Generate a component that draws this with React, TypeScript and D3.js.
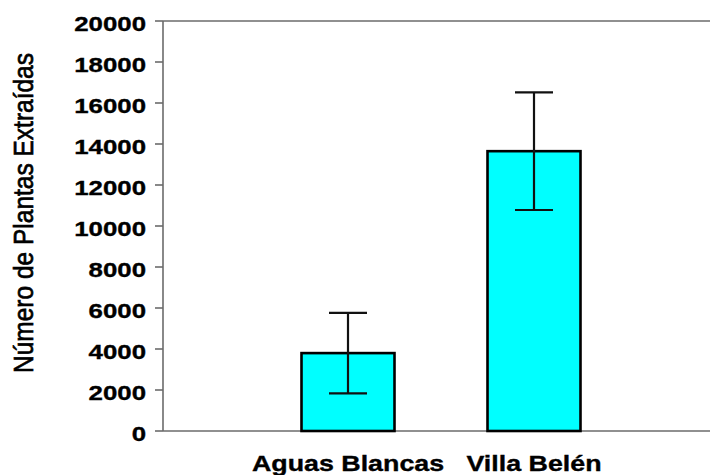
import React from "react";
import * as d3 from "d3";

const categories = ["Aguas Blancas", "Villa Belén"];
const means = [3800, 13650];
const errors = [1960, 2870];
const yTicks = [0, 2000, 4000, 6000, 8000, 10000, 12000, 14000, 16000, 18000, 20000];
const yTitle = "Número de Plantas Extraídas";

const W = 710;
const H = 475;
const FONT = "'Liberation Sans', Arial, sans-serif";

export default function App() {
  const y = d3.scaleLinear().domain([0, 20000]).range([431, 21]);
  const x = d3
    .scaleBand<string>()
    .domain(categories)
    .range([255, 627])
    .paddingInner(0.5)
    .paddingOuter(0.25);
  const axisX = 163;
  const capHalf = 19;
  const axisColor = "#6b6b6b";

  return (
    <div style={{ position: "absolute", left: 0, top: 0 }}>
      <svg width={W} height={H} style={{ display: "block", background: "#fff" }}>
        {/* frame lines */}
        <line x1={axisX} x2={W} y1={y(20000)} y2={y(20000)} stroke={axisColor} strokeWidth={1.6} />
        <line x1={axisX} x2={W} y1={y(0)} y2={y(0)} stroke={axisColor} strokeWidth={1.6} />
        <line x1={axisX} x2={axisX} y1={y(20000)} y2={y(0)} stroke={axisColor} strokeWidth={1.6} />
        {/* y ticks */}
        {yTicks.map((t) => (
          <g key={t}>
            <line x1={axisX - 8} x2={axisX} y1={y(t)} y2={y(t)} stroke={axisColor} strokeWidth={1.6} />
            <text
              transform={`translate(146,${y(t) + 2}) scale(1.23,1)`}
              textAnchor="end"
              dy="0.36em"
              fontFamily={FONT}
              fontWeight="bold"
              fontSize={21}
              fill="#000"
              stroke="#000"
              strokeWidth={0.35}
            >
              {t}
            </text>
          </g>
        ))}
        {/* bars */}
        {categories.map((c, i) => {
          const x0 = x(c)!;
          const bw = x.bandwidth();
          const cx = x0 + bw / 2;
          const hi = y(means[i] + errors[i]);
          const lo = y(means[i] - errors[i]);
          return (
            <g key={c}>
              <rect
                x={x0}
                y={y(means[i])}
                width={bw}
                height={y(0) - y(means[i])}
                fill="#00ffff"
                stroke="#000"
                strokeWidth={2.6}
              />
              <line x1={cx} x2={cx} y1={hi} y2={lo} stroke="#111" strokeWidth={2.2} />
              <line x1={cx - capHalf} x2={cx + capHalf} y1={hi} y2={hi} stroke="#111" strokeWidth={2.2} />
              <line x1={cx - capHalf} x2={cx + capHalf} y1={lo} y2={lo} stroke="#111" strokeWidth={2.2} />
              <text
                transform={`translate(${cx},471) scale(1.22,1)`}
                textAnchor="middle"
                fontFamily={FONT}
                fontWeight="bold"
                fontSize={22}
                fill="#000"
                stroke="#000"
                strokeWidth={0.35}
              >
                {c}
              </text>
            </g>
          );
        })}
        {/* y title */}
        <text
          transform="translate(33,213) scale(1.14,1) rotate(-90)"
          textAnchor="middle"
          fontFamily={FONT}
          fontSize={24.5}
          fill="#000"
          stroke="#000"
          strokeWidth={0.6}
        >
          {yTitle}
        </text>
      </svg>
    </div>
  );
}
